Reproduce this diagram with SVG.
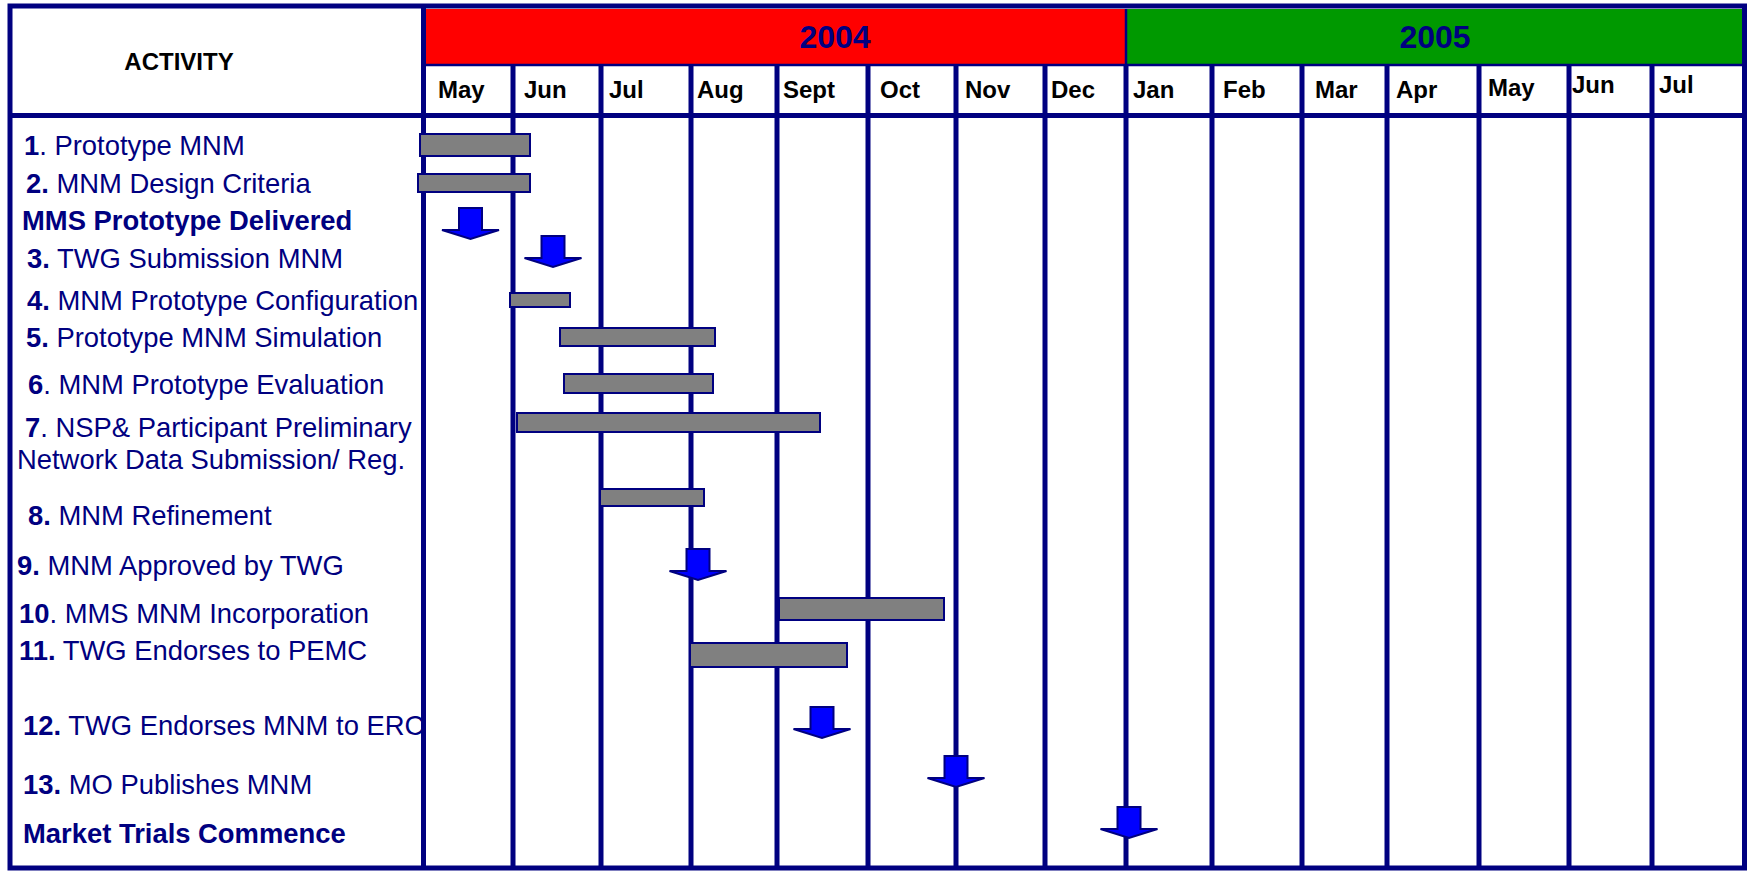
<svg xmlns="http://www.w3.org/2000/svg" width="1752" height="871" viewBox="0 0 1752 871">
  <style>
    .grid { stroke: #000080; stroke-width: 5; fill: none; }
    .thin { stroke: #000080; stroke-width: 2.5; fill: none; }
    .bar { fill: #808080; stroke: #000080; stroke-width: 2; }
    .ms { fill: #0000FF; stroke: #000080; stroke-width: 2; stroke-linejoin: miter; }
    .lbl { font-family: "Liberation Sans", Arial, sans-serif; font-size: 27.4px; fill: #000080; }
    .b { font-weight: bold; }
    .hdr { font-family: "Liberation Sans", Arial, sans-serif; font-weight: bold; fill: #000000; }
    .mon { font-size: 24px; }
    .year { font-family: "Liberation Sans", Arial, sans-serif; font-weight: bold; font-size: 32px; fill: #000080; text-anchor: middle; }
  </style>
  <defs>
    <clipPath id="colclip"><rect x="0" y="0" width="422" height="871"/></clipPath>
    <!-- milestone marker: block arrow pointing down, origin at the top centre of the shaft -->
    <path id="milestone" class="ms" d="M-11.5,0 H11.5 V22 H28.5 L0,31 L-28.5,22 H-11.5 Z"/>
  </defs>

  <rect x="0" y="0" width="1752" height="871" fill="#ffffff"/>

  <!-- header: year bands -->
  <g id="year-2004">
    <rect x="424" y="9" width="702" height="56" fill="#FF0000"/>
    <text class="year" x="835" y="48">2004</text>
  </g>
  <g id="year-2005">
    <rect x="1126" y="9" width="618" height="56" fill="#009900"/>
    <text class="year" x="1435" y="48">2005</text>
  </g>

  <g id="activity-header">
    <text class="hdr" x="179" y="70" font-size="24" text-anchor="middle">ACTIVITY</text>
  </g>

  <!-- month labels -->
  <g id="months" class="hdr mon">
    <text x="438" y="98">May</text>
    <text x="524" y="98">Jun</text>
    <text x="609" y="98">Jul</text>
    <text x="697" y="98">Aug</text>
    <text x="783" y="98">Sept</text>
    <text x="880" y="98">Oct</text>
    <text x="965" y="98">Nov</text>
    <text x="1051" y="98">Dec</text>
    <text x="1133" y="98">Jan</text>
    <text x="1223" y="98">Feb</text>
    <text x="1315" y="98">Mar</text>
    <text x="1396" y="98">Apr</text>
    <text x="1488" y="96">May</text>
    <text x="1572" y="93">Jun</text>
    <text x="1659" y="93">Jul</text>
  </g>

  <!-- grid lines -->
  <g id="grid">
    <line class="thin" x1="424" y1="65" x2="1744" y2="65"/>
    <line class="thin" x1="1126" y1="9" x2="1126" y2="65"/>
    <line class="grid" x1="513" y1="65" x2="513" y2="868"/>
    <line class="grid" x1="601" y1="65" x2="601" y2="868"/>
    <line class="grid" x1="691" y1="65" x2="691" y2="868"/>
    <line class="grid" x1="777" y1="65" x2="777" y2="868"/>
    <line class="grid" x1="868" y1="65" x2="868" y2="868"/>
    <line class="grid" x1="956" y1="65" x2="956" y2="868"/>
    <line class="grid" x1="1045" y1="65" x2="1045" y2="868"/>
    <line class="grid" x1="1126" y1="65" x2="1126" y2="868"/>
    <line class="grid" x1="1212" y1="65" x2="1212" y2="868"/>
    <line class="grid" x1="1302" y1="65" x2="1302" y2="868"/>
    <line class="grid" x1="1387" y1="65" x2="1387" y2="868"/>
    <line class="grid" x1="1479" y1="65" x2="1479" y2="868"/>
    <line class="grid" x1="1569" y1="65" x2="1569" y2="868"/>
    <line class="grid" x1="1652" y1="65" x2="1652" y2="868"/>
    <line class="grid" x1="423.5" y1="6" x2="423.5" y2="868"/>
    <line class="grid" x1="8" y1="115.5" x2="1746" y2="115.5"/>
    <rect class="grid" x="10" y="6" width="1734.5" height="862"/>
  </g>

  <!-- activities -->
  <g clip-path="url(#colclip)">
    <g id="act-1"><text class="lbl" x="24" y="155"><tspan class="b">1</tspan>. Prototype MNM</text></g>
    <g id="act-2"><text class="lbl" x="26" y="193"><tspan class="b">2.</tspan> MNM Design Criteria</text></g>
    <g id="ms-prototype"><text class="lbl b" x="22" y="230">MMS Prototype Delivered</text></g>
    <g id="act-3"><text class="lbl" x="27" y="268"><tspan class="b">3.</tspan> TWG Submission MNM</text></g>
    <g id="act-4"><text class="lbl" x="27" y="310"><tspan class="b">4.</tspan> MNM Prototype Configuration</text></g>
    <g id="act-5"><text class="lbl" x="26" y="347"><tspan class="b">5.</tspan> Prototype MNM Simulation</text></g>
    <g id="act-6"><text class="lbl" x="28" y="394"><tspan class="b">6</tspan>. MNM Prototype Evaluation</text></g>
    <g id="act-7"><text class="lbl" x="25" y="437"><tspan class="b">7</tspan>. NSP&amp; Participant Preliminary</text><text class="lbl" x="17" y="469">Network Data Submission/ Reg.</text></g>
    <g id="act-8"><text class="lbl" x="28" y="525"><tspan class="b">8.</tspan> MNM Refinement</text></g>
    <g id="act-9"><text class="lbl" x="17" y="575"><tspan class="b">9.</tspan> MNM Approved by TWG</text></g>
    <g id="act-10"><text class="lbl" x="19" y="623"><tspan class="b">10</tspan>. MMS MNM Incorporation</text></g>
    <g id="act-11"><text class="lbl" x="19" y="660"><tspan class="b">11.</tspan> TWG Endorses to PEMC</text></g>
    <g id="act-12"><text class="lbl" x="23" y="735"><tspan class="b">12.</tspan> TWG Endorses MNM to ERC</text></g>
    <g id="act-13"><text class="lbl" x="23" y="794"><tspan class="b">13.</tspan> MO Publishes MNM</text></g>
    <g id="ms-market"><text class="lbl b" x="23" y="843">Market Trials Commence</text></g>
  </g>

  <!-- task bars -->
  <g id="bars">
    <rect class="bar" x="420" y="134" width="110" height="22"/>
    <rect class="bar" x="418" y="174" width="112" height="18"/>
    <rect class="bar" x="510" y="293" width="60" height="14"/>
    <rect class="bar" x="560" y="328" width="155" height="18"/>
    <rect class="bar" x="564" y="374" width="149" height="19"/>
    <rect class="bar" x="517" y="413" width="303" height="19"/>
    <rect class="bar" x="600" y="489" width="104" height="17"/>
    <rect class="bar" x="779" y="598" width="165" height="22"/>
    <rect class="bar" x="690" y="643" width="157" height="24"/>
  </g>

  <!-- milestones -->
  <g id="milestones">
    <use href="#milestone" x="470.5" y="208"/>
    <use href="#milestone" x="553" y="236"/>
    <use href="#milestone" x="698" y="549"/>
    <use href="#milestone" x="822" y="707"/>
    <use href="#milestone" x="956" y="756"/>
    <use href="#milestone" x="1129" y="807"/>
  </g>
</svg>
